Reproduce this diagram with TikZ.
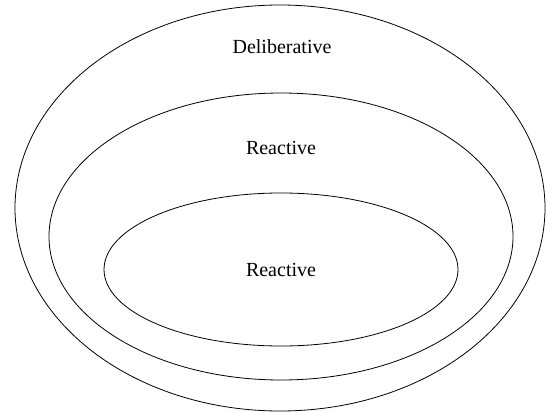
\documentclass[tikz,border=0pt]{standalone}
\usepackage{fontspec}
\setmainfont{Liberation Serif}
\usetikzlibrary{shapes.geometric}
\begin{document}
\begin{tikzpicture}[x=1pt, y=-1pt,
        ring/.style={draw, shape=ellipse, line width=0.8pt, inner sep=0pt},
        tag/.style={font=\fontsize{20}{24}\selectfont}]
                \useasboundingbox (0, 0) rectangle (546, 412);

                \node (outer) at (280, 208) [ring, minimum width=530pt, minimum height=406pt] {};
                \node (middle) at (281, 236.5) [ring, minimum width=464pt, minimum height=287pt] {};
                \node (inner) at (281, 269.5) [ring, minimum width=354pt, minimum height=153pt] {};

                \node (delib) at (282, 47) [tag] {Deliberative};
                \node (react1) at (281, 148) [tag] {Reactive};
                \node (react2) at (281, 270) [tag] {Reactive};
            \end{tikzpicture}
\end{document}
